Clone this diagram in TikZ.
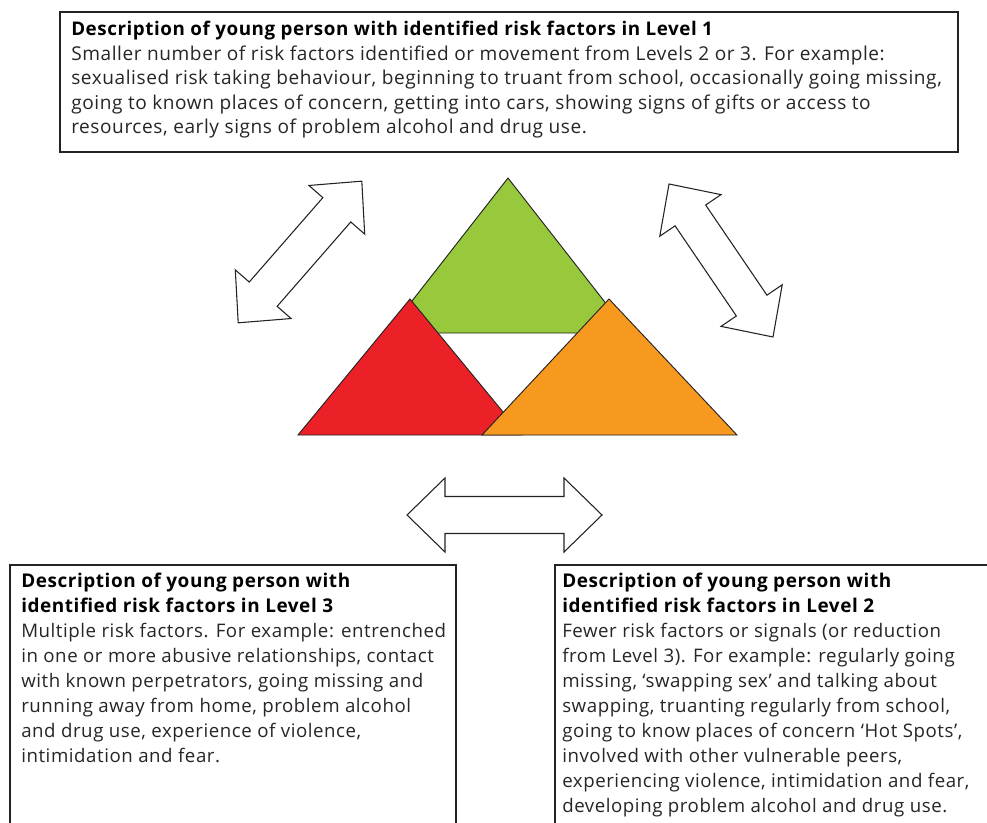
\documentclass[tikz,border=0pt]{standalone}
\usepackage{fontspec}
\setmainfont{Open Sans}[LetterSpace=3]
\usetikzlibrary{fit}
\definecolor{trigreen}{RGB}{152,200,60}
\definecolor{trired}{RGB}{236,32,39}
\definecolor{triorange}{RGB}{247,153,31}
\definecolor{bodytext}{RGB}{40,36,40}
\definecolor{edge}{RGB}{35,35,35}
\tikzset{
  frame/.style={draw=edge, line width=1.1pt, inner sep=0pt, fill=white},
  toptitle/.style={anchor=base west, inner sep=0pt, font=\fontsize{14.1pt}{17pt}\selectfont\bfseries, text=black},
  topbody/.style={anchor=base west, inner sep=0pt, font=\fontsize{14.3pt}{17pt}\selectfont, text=bodytext},
  lowtitle/.style={anchor=base west, inner sep=0pt, font=\fontsize{14.2pt}{18pt}\selectfont\bfseries, text=black},
  lowbody/.style={anchor=base west, inner sep=0pt, font=\fontsize{14pt}{18pt}\selectfont, text=bodytext},
  tri/.style={draw=edge, line width=0.7pt, line join=miter},
  arrowshape/.style={draw=edge, line width=0.8pt, fill=white, line join=miter},
  pics/dblarrow/.style={code={
    \draw[arrowshape] (-#1,0) -- ({-#1+38},37) -- ({-#1+38},18.5) -- ({#1-38},18.5)
      -- ({#1-38},37) -- (#1,0) -- ({#1-38},-37) -- ({#1-38},-18.5)
      -- ({-#1+38},-18.5) -- ({-#1+38},-37) -- cycle;
  }}
}
\begin{document}
\begin{tikzpicture}[x=0.75pt,y=-0.75pt]
\useasboundingbox (0,0) rectangle (987,823);
\fill[white] (0,0) rectangle (987,823);

% boxes
\node[frame, fit={(60,12) (958,152)}] (topbox) {};
\node[frame, fit={(10,565) (456,845)}] (boxthree) {};
\node[frame, fit={(555,565) (1000,845)}] (boxtwo) {};

% top text
\node[toptitle] (tt0) at (71,36) {Description of young person with identified risk factors in Level 1};
\foreach \t [count=\i] in {
  {Smaller number of risk factors identified or movement from Levels 2 or 3. For example:},
  {sexualised risk taking behaviour, beginning to truant from school, occasionally going missing,},
  {going to known places of concern, getting into cars, showing signs of gifts or access to},
  {resources, early signs of problem alcohol and drug use.}}
  \node[topbody] (tb\i) at (71,{36+24.5*\i}) {\t};

% level 3 text
\node[lowtitle] (lt1) at (21,587) {Description of young person with};
\node[lowtitle] (lt2) at (21,612) {identified risk factors in Level 3};
\foreach \t [count=\i] in {
  {Multiple risk factors. For example: entrenched},
  {in one or more abusive relationships, contact},
  {with known perpetrators, going missing and},
  {running away from home, problem alcohol},
  {and drug use, experience of violence,},
  {intimidation and fear.}}
  \node[lowbody] (lb\i) at (21,{612+25*\i}) {\t};

% level 2 text
\node[lowtitle] (rt1) at (562,587) {Description of young person with};
\node[lowtitle] (rt2) at (562,612) {identified risk factors in Level 2};
\foreach \t [count=\i] in {
  {Fewer risk factors or signals (or reduction},
  {from Level 3). For example: regularly going},
  {missing, ‘swapping sex’ and talking about},
  {swapping, truanting regularly from school,},
  {going to know places of concern ‘Hot Spots’,},
  {involved with other vulnerable peers,},
  {experiencing violence, intimidation and fear,},
  {developing problem alcohol and drug use.}}
  \node[lowbody] (rb\i) at (562,{612+25*\i}) {\t};

% triangles
\filldraw[tri, fill=trigreen] (508,178) -- (629,333) -- (387,333) -- cycle;
\filldraw[tri, fill=trired] (410,299) -- (522,435) -- (298,435) -- cycle;
\filldraw[tri, fill=triorange] (609,299) -- (737,435) -- (482,435) -- cycle;

% double arrows
\pic[rotate=48.9] at (300,252) {dblarrow=94};
\pic[rotate=-55.8] at (721,260.5) {dblarrow=92.5};
\pic at (504.5,515) {dblarrow=97.5};
\end{tikzpicture}
\end{document}
